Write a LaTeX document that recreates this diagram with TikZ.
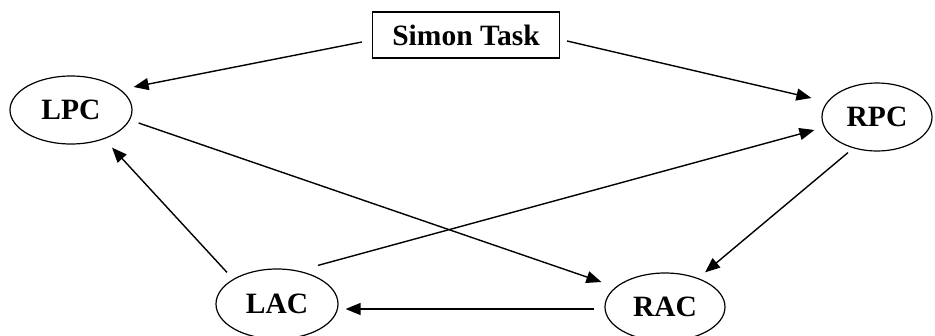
\documentclass[tikz,border=0pt]{standalone}
\usepackage{fontspec}
\setmainfont{Liberation Serif}
\usetikzlibrary{arrows.meta,shapes.geometric}
\begin{document}
\begin{tikzpicture}[x=1pt,y=-1pt,
  every node/.style={font=\fontsize{29.5}{31}\selectfont\bfseries, inner sep=0pt},
  area/.style={draw, ellipse, line width=1.2pt},
  taskbox/.style={draw, rectangle, line width=1.2pt},
  link/.style={line width=1.4pt, -{Triangle[length=15pt,width=12pt]}}]
  \useasboundingbox (0,0) rectangle (935,335);

  % nodes
  \node[taskbox, minimum width=187pt, minimum height=46pt] (simon) at (466,35) {Simon Task};
  \node[area, minimum width=122pt, minimum height=68pt] (lpc) at (71,110) {LPC};
  \node[area, minimum width=110pt, minimum height=68pt] (rpc) at (877,117) {RPC};
  \node[area, minimum width=122pt, minimum height=70pt] (lac) at (277,304) {LAC};
  \node[area, minimum width=120pt, minimum height=68pt] (rac) at (665,307) {RAC};

  % connections
  \draw[link] ([shift={(-10,7)}]simon.west) -- ([shift={(1,-23)}]lpc.east);
  \draw[link] ([shift={(7,6)}]simon.east) -- ([shift={(-10,-19)}]rpc.west);
  \draw[link] ([shift={(6,13)}]lpc.east) -- ([shift={(-3,-25)}]rac.west);
  \draw[link] ([shift={(41,-3)}]lac.north) -- ([shift={(-7,13)}]rpc.west);
  \draw[link] ([shift={(-29,1)}]rpc.south) -- ([shift={(40,0)}]rac.north);
  \draw[link] ([shift={(-50,4)}]lac.north) -- ([shift={(41,3)}]lpc.south);
  \draw[link] ([shift={(-10,2)}]rac.west) -- ([shift={(7,5)}]lac.east);
\end{tikzpicture}
\end{document}
